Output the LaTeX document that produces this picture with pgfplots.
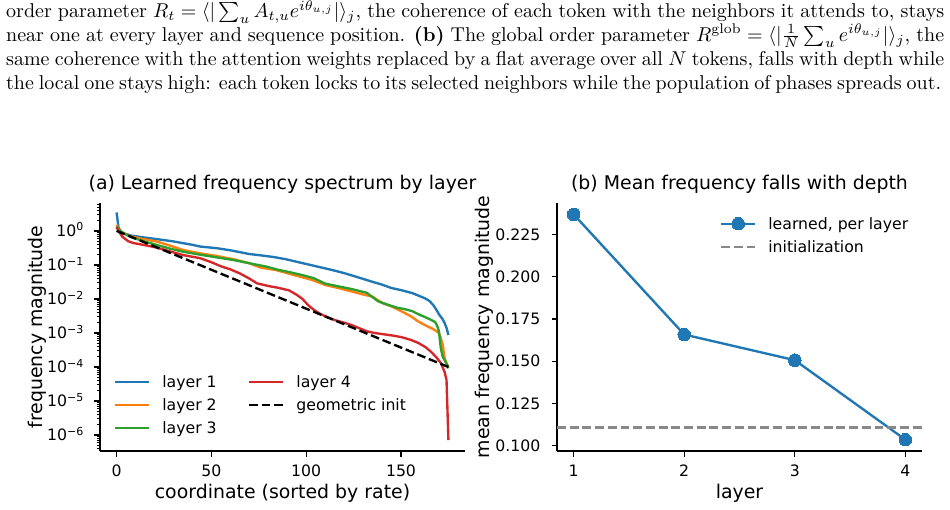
\documentclass[border=0pt]{standalone}
\usepackage{fontspec}
\usepackage{amsmath}
\usepackage{graphicx}
\usepackage{pgfplots}
\pgfplotsset{compat=1.18}
\newfontfamily\dv{DejaVu Sans}
\definecolor{c0}{HTML}{1F77B4}
\definecolor{c1}{HTML}{FF7F0E}
\definecolor{c2}{HTML}{2CA02C}
\definecolor{c3}{HTML}{D62728}
\definecolor{gry}{HTML}{888888}
\newcommand{\sexp}[1]{10\raisebox{5.6pt}{\fontsize{11}{11}\selectfont #1}}
\pgfplotsset{
 mpl/.style={
  scale only axis, width=365pt, height=248pt,
  axis x line*=bottom, axis y line*=left,
  axis line style={-, line width=1.26pt, black},
  every outer x axis line/.append style={-},
  every outer y axis line/.append style={-},
  tick align=outside,
  major tick length=5.5pt, minor tick length=3.1pt,
  major tick style={black, line width=1.26pt},
  minor tick style={black, line width=0.94pt},
  tick label style={font=\dv\fontsize{15.7}{18}\selectfont, inner sep=0pt},
  xticklabel style={anchor=base, yshift=-20pt},
  yticklabel style={anchor=base east, xshift=-11pt, yshift=-5.7pt},
  label style={font=\dv\fontsize{18.9}{22}\selectfont},
  title style={font=\dv\fontsize{18.9}{22}\selectfont, at={(axis description cs:0.5,1.032)}, anchor=base, inner sep=0pt},
  xlabel style={at={(axis description cs:0.5,-0.1895)}, anchor=base, inner sep=0pt},
  legend style={draw=none, fill=none, inner sep=0pt, outer sep=0pt,
    font=\dv\fontsize{15.7}{18}\selectfont, row sep=7.4pt, column sep=12pt,
    nodes={inner sep=0pt, text height=11.9pt, text depth=3.7pt, anchor=base west},
    cells={anchor=base west}},
  legend image code/.code={\draw[mark repeat=2,mark phase=2,#1] plot coordinates {(0pt,5.6pt) (17pt,5.6pt) (34pt,5.6pt)};},
 }
}
\begin{document}
\begin{tikzpicture}
\path[use as bounding box] (0pt,0pt) rectangle (950pt,-509pt);
% caption text
\node[anchor=base west, inner sep=0pt] at (6pt,-17.3pt) {\scalebox{2}{\makebox[469pt][s]{order parameter $R_t = \langle|\sum_u A_{t,u}e^{i\theta_{u,j}}|\rangle_j$, the coherence of each token with the neighbors it attends to, stays}}};
\node[anchor=base west, inner sep=0pt] at (6pt,-41pt) {\scalebox{2}{\makebox[469pt][s]{near one at every layer and sequence position. \textbf{(b)} The global order parameter $R^{\mathrm{glob}} = \langle|\frac{1}{N}\sum_u e^{i\theta_{u,j}}|\rangle_j$, the}}};
\node[anchor=base west, inner sep=0pt] at (6pt,-65pt) {\scalebox{2}{\makebox[469pt][s]{same coherence with the attention weights replaced by a flat average over all $N$ tokens, falls with depth while}}};
\node[anchor=base west, inner sep=0pt] at (6pt,-89.3pt) {\scalebox{2}{\makebox[467.5pt][s]{the local one stays high: each token locks to its selected neighbors while the population of phases spreads out.}}};

% panel (a)
\begin{axis}[mpl, at={(100pt,-451pt)}, anchor=south west,
  xmin=-8.75, xmax=183.75, ymode=log, ymin=3.39e-7, ymax=6.6,
  xtick={0,50,100,150}, xticklabels={0,50,100,150},
  ytick={1,1e-1,1e-2,1e-3,1e-4,1e-5,1e-6},
  yticklabels={\sexp{0},\sexp{−1},\sexp{−2},\sexp{−3},\sexp{−4},\sexp{−5},\sexp{−6}},
  minor ytick={4e-7,5e-7,6e-7,7e-7,8e-7,9e-7,2e-6,3e-6,4e-6,5e-6,6e-6,7e-6,8e-6,9e-6,2e-5,3e-5,4e-5,5e-5,6e-5,7e-5,8e-5,9e-5,2e-4,3e-4,4e-4,5e-4,6e-4,7e-4,8e-4,9e-4,2e-3,3e-3,4e-3,5e-3,6e-3,7e-3,8e-3,9e-3,2e-2,3e-2,4e-2,5e-2,6e-2,7e-2,8e-2,9e-2,0.2,0.3,0.4,0.5,0.6,0.7,0.8,0.9,2,3,4,5,6},
  title={(a) Learned frequency spectrum by layer},
  xlabel={coordinate (sorted by rate)},
  ylabel={frequency magnitude},
  ylabel style={at={(axis description cs:-0.1726,0.5)}, anchor=center, inner sep=0pt},
  legend columns=2,
  legend style={at={(axis description cs:0.0384,0.3048)}, anchor=north west,
    /tikz/every even column/.append style={column sep=31.3pt}},
]
\addplot[c0, line width=2.36pt, forget plot] coordinates {
(0,3.47)(1,1.26)(2,1.00)(4,0.832)(8,0.724)(14,0.646)(21,0.575)(30,0.490)(40,0.389)(44,0.347)(53,0.309)(60,0.269)(70,0.209)(76,0.191)(83,0.170)(89,0.148)(96,0.120)(106,0.0891)(113,0.0724)(120,0.0575)(127,0.0437)(134,0.0331)(140,0.0263)(145,0.0209)(150,0.0182)(156,0.0148)(160,0.0120)(163,0.0102)(165,0.00871)(167,0.00661)(169,0.00447)(170,0.00355)(172,0.00251)(173,0.00195)(174,0.00141)(175,0.000871)};
\addplot[c1, line width=2.36pt, forget plot] coordinates {
(0,1.514)(1,1.122)(3,0.891)(8,0.676)(14,0.575)(21,0.490)(28,0.372)(35,0.275)(44,0.219)(53,0.182)(62,0.145)(70,0.112)(76,0.0832)(84,0.0708)(91,0.0550)(97,0.0447)(103,0.0363)(110,0.0257)(117,0.0209)(124,0.0166)(130,0.0135)(135,0.0117)(140,0.00759)(145,0.00603)(150,0.00437)(155,0.00316)(159,0.00219)(163,0.00166)(166,0.00138)(168,0.00120)(170,0.00100)(171,0.000708)(172,0.000447)(173,0.000182)(174,0.000126)(175,0.000102)};
\addplot[c2, line width=2.36pt, forget plot] coordinates {
(0,1.349)(1,1.148)(3,0.891)(8,0.646)(14,0.501)(21,0.389)(28,0.302)(35,0.245)(44,0.200)(53,0.166)(62,0.138)(70,0.112)(79,0.0891)(85,0.0724)(91,0.0617)(98,0.0501)(104,0.0407)(110,0.0282)(117,0.0234)(124,0.0195)(132,0.0151)(135,0.0112)(138,0.00851)(143,0.00676)(148,0.00550)(152,0.00501)(156,0.00437)(160,0.00339)(163,0.00288)(166,0.00240)(168,0.00209)(169,0.00166)(170,0.00112)(171,0.000355)(172,0.000200)(174,0.000126)(175,0.0000912)};
\addplot[c3, line width=2.36pt, forget plot] coordinates {
(0,1.288)(1,1.0)(3,0.676)(6,0.501)(9,0.437)(15,0.380)(21,0.324)(28,0.251)(35,0.195)(44,0.158)(50,0.120)(55,0.0912)(60,0.0741)(65,0.0562)(70,0.0398)(74,0.0288)(80,0.0240)(85,0.0214)(91,0.0178)(95,0.0132)(98,0.0100)(101,0.00661)(104,0.00479)(107,0.00372)(111,0.00295)(115,0.00240)(120,0.00200)(124,0.00170)(128,0.00138)(132,0.00112)(136,0.00100)(141,0.000912)(146,0.000832)(150,0.000759)(155,0.000631)(159,0.000513)(163,0.000380)(166,0.000275)(169,0.000182)(171,0.000132)(173,0.0000708)(174,0.0000417)(175,0.000000708)};
\addplot[black, line width=2.36pt, dash pattern=on 8.7pt off 3.8pt, forget plot] coordinates {(0,1)(175,0.0001)};
\addlegendimage{c0, line width=2.36pt}\addlegendentry{layer 1}
\addlegendimage{c3, line width=2.36pt}\addlegendentry{layer 4}
\addlegendimage{c1, line width=2.36pt}\addlegendentry{layer 2}
\addlegendimage{black, line width=2.36pt, dash pattern=on 8.7pt off 3.8pt}\addlegendentry{geometric init}
\addlegendimage{c2, line width=2.36pt}\addlegendentry{layer 3}
\end{axis}

% panel (b)
\begin{axis}[mpl, at={(557pt,-451pt)}, anchor=south west,
  xmin=0.85, xmax=4.15, ymin=0.0968, ymax=0.2437,
  xtick={1,2,3,4}, xticklabels={1,2,3,4},
  ytick={0.1,0.125,0.15,0.175,0.2,0.225},
  yticklabels={0.100,0.125,0.150,0.175,0.200,0.225},
  title={(b) Mean frequency falls with depth},
  xlabel={layer},
  ylabel={mean frequency magnitude},
  ylabel style={at={(axis description cs:-0.2,0.5)}, anchor=center, inner sep=0pt},
  legend style={at={(axis description cs:0.4466,0.942)}, anchor=north west},
  clip=false,
]
\addplot[c0, line width=2.36pt, mark=*, mark size=6.3pt, mark options={solid, fill=c0, draw=c0, line width=0pt}] coordinates {(1,0.2370)(2,0.1658)(3,0.1506)(4,0.1035)};
\addlegendentry{learned, per layer}
\addplot[gry, line width=2.36pt, dash pattern=on 8.9pt off 3.8pt] coordinates {(0.85,0.1108)(4.15,0.1108)};
\addlegendentry{initialization}
\end{axis}
\end{tikzpicture}
\end{document}
